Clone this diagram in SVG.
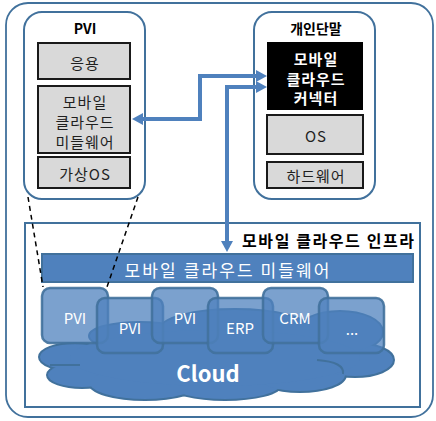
<svg xmlns="http://www.w3.org/2000/svg" width="436" height="421" viewBox="0 0 436 421">
<defs>
<style>
text{font-family:"Noto Sans CJK KR","Noto Sans",sans-serif;text-anchor:middle;dominant-baseline:central}
.frame{fill:#fff;stroke:#41719c;stroke-width:2}
.gray{fill:#d9d9d9;stroke:#1a1a1a;stroke-width:2}
.gt{font-size:15px;fill:#1f1f1f;letter-spacing:1px}
.title{font-size:14px;font-weight:bold;fill:#000}
.wt{font-size:15px;font-weight:bold;fill:#fff;letter-spacing:1px}
.small{fill:#4f81bd;fill-opacity:0.75;stroke:#41719c;stroke-opacity:0.9;stroke-width:2.5}
.st{font-size:15px;fill:#fff}
.arrow{fill:none;stroke:#4f81bd;stroke-width:4}
.dash{fill:none;stroke:#000;stroke-width:1.5;stroke-dasharray:5,4}
.cl{fill:#4f81bd}
.clo{fill:#4f81bd;stroke:#41719c;stroke-width:4}
</style>
<marker id="ah" viewBox="0 0 11 12" markerWidth="11" markerHeight="12" refX="2" refY="6" orient="auto-start-reverse" markerUnits="userSpaceOnUse">
<path d="M0,0 L11,6 L0,12 z" fill="#4f81bd"/>
</marker>
</defs>

<rect x="6" y="3" width="427" height="414" rx="22" fill="#fff" stroke="#41719c" stroke-width="1.8"/>

<g id="infra">
<rect class="frame" x="25" y="223" width="395" height="184"/>
<text x="328" y="240" font-size="16" font-weight="bold" fill="#000" textLength="172" lengthAdjust="spacing">모바일 클라우드 인프라</text>
</g>

<g id="middleware-bar">
<rect x="42" y="254" width="371" height="28" fill="#4f81bd" stroke="#41719c" stroke-width="2"/>
<text x="227" y="269" font-size="17" fill="#fff" textLength="205" lengthAdjust="spacing">모바일 클라우드 미들웨어</text>
</g>

<g id="cloud">
<g class="clo">
<ellipse cx="75" cy="357" rx="35" ry="13"/>
<ellipse cx="82" cy="375" rx="34" ry="12"/>
<ellipse cx="145" cy="383" rx="55" ry="16"/>
<ellipse cx="225" cy="385" rx="55" ry="14"/>
<ellipse cx="300" cy="375" rx="45" ry="16"/>
<ellipse cx="355" cy="360" rx="38" ry="16"/>
<ellipse cx="340" cy="332" rx="42" ry="20"/>
<ellipse cx="235" cy="330" rx="75" ry="20"/>
<ellipse cx="140" cy="336" rx="50" ry="13"/>
</g>
<g class="cl">
<ellipse cx="75" cy="357" rx="35" ry="13"/>
<ellipse cx="82" cy="375" rx="34" ry="12"/>
<ellipse cx="145" cy="383" rx="55" ry="16"/>
<ellipse cx="225" cy="385" rx="55" ry="14"/>
<ellipse cx="300" cy="375" rx="45" ry="16"/>
<ellipse cx="355" cy="360" rx="38" ry="16"/>
<ellipse cx="340" cy="332" rx="42" ry="20"/>
<ellipse cx="235" cy="330" rx="75" ry="20"/>
<ellipse cx="140" cy="336" rx="50" ry="13"/>
<ellipse cx="215" cy="358" rx="145" ry="28"/>
</g>
<path d="M50,365 H80 M317,360 Q345,362 343,374" fill="none" stroke="#41719c" stroke-width="2"/>
<text x="208" y="372" font-size="22" font-weight="bold" fill="#fff">Cloud</text>
</g>

<g id="vm-pvi1"><rect class="small" x="42" y="288" width="66" height="55" rx="8"/><text class="st" x="75" y="317">PVI</text></g>
<g id="vm-pvi2"><rect class="small" x="97" y="298" width="66" height="55" rx="8"/><text class="st" x="130" y="327">PVI</text></g>
<g id="vm-pvi3"><rect class="small" x="152" y="288" width="66" height="55" rx="8"/><text class="st" x="185" y="317">PVI</text></g>
<g id="vm-erp"><rect class="small" x="208" y="298" width="65" height="55" rx="8"/><text class="st" x="240" y="327">ERP</text></g>
<g id="vm-crm"><rect class="small" x="263" y="288" width="65" height="55" rx="8"/><text class="st" x="295" y="317">CRM</text></g>
<g id="vm-etc"><rect class="small" x="319" y="298" width="65" height="55" rx="8"/><text class="st" x="352" y="328" font-size="13">...</text></g>

<g id="pvi">
<rect class="frame" x="24" y="12" width="121" height="187" rx="18"/>
<text class="title" x="85" y="28">PVI</text>
<rect class="gray" x="38" y="43" width="92" height="36"/>
<text class="gt" x="85" y="62">응용</text>
<rect class="gray" x="38" y="86" width="92" height="67"/>
<text class="gt" x="85" y="101">모바일</text>
<text class="gt" x="85" y="121">클라우드</text>
<text class="gt" x="85" y="141">미들웨어</text>
<rect class="gray" x="38" y="157" width="92" height="31"/>
<text class="gt" x="85" y="173">가상OS</text>
</g>

<g id="device">
<rect class="frame" x="254" y="12" width="121" height="187" rx="18"/>
<text class="title" x="316" y="28" font-size="15">개인단말</text>
<rect x="267" y="42" width="96" height="68" fill="#000"/>
<text class="wt" x="316" y="58">모바일</text>
<text class="wt" x="316" y="78">클라우드</text>
<text class="wt" x="316" y="97">커넥터</text>
<rect class="gray" x="267" y="115" width="96" height="39"/>
<text class="gt" x="316" y="135">OS</text>
<rect class="gray" x="267" y="162" width="96" height="26"/>
<text class="gt" x="316" y="175">하드웨어</text>
</g>

<g id="connectors">
<path class="arrow" d="M141,119 H200 V76 H258" marker-start="url(#ah)" marker-end="url(#ah)"/>
<path class="arrow" d="M227,243 V87 H258" marker-start="url(#ah)" marker-end="url(#ah)"/>
<path class="dash" d="M28,197 L43,287"/>
<path class="dash" d="M138,197 L107,287"/>
</g>
</svg>
